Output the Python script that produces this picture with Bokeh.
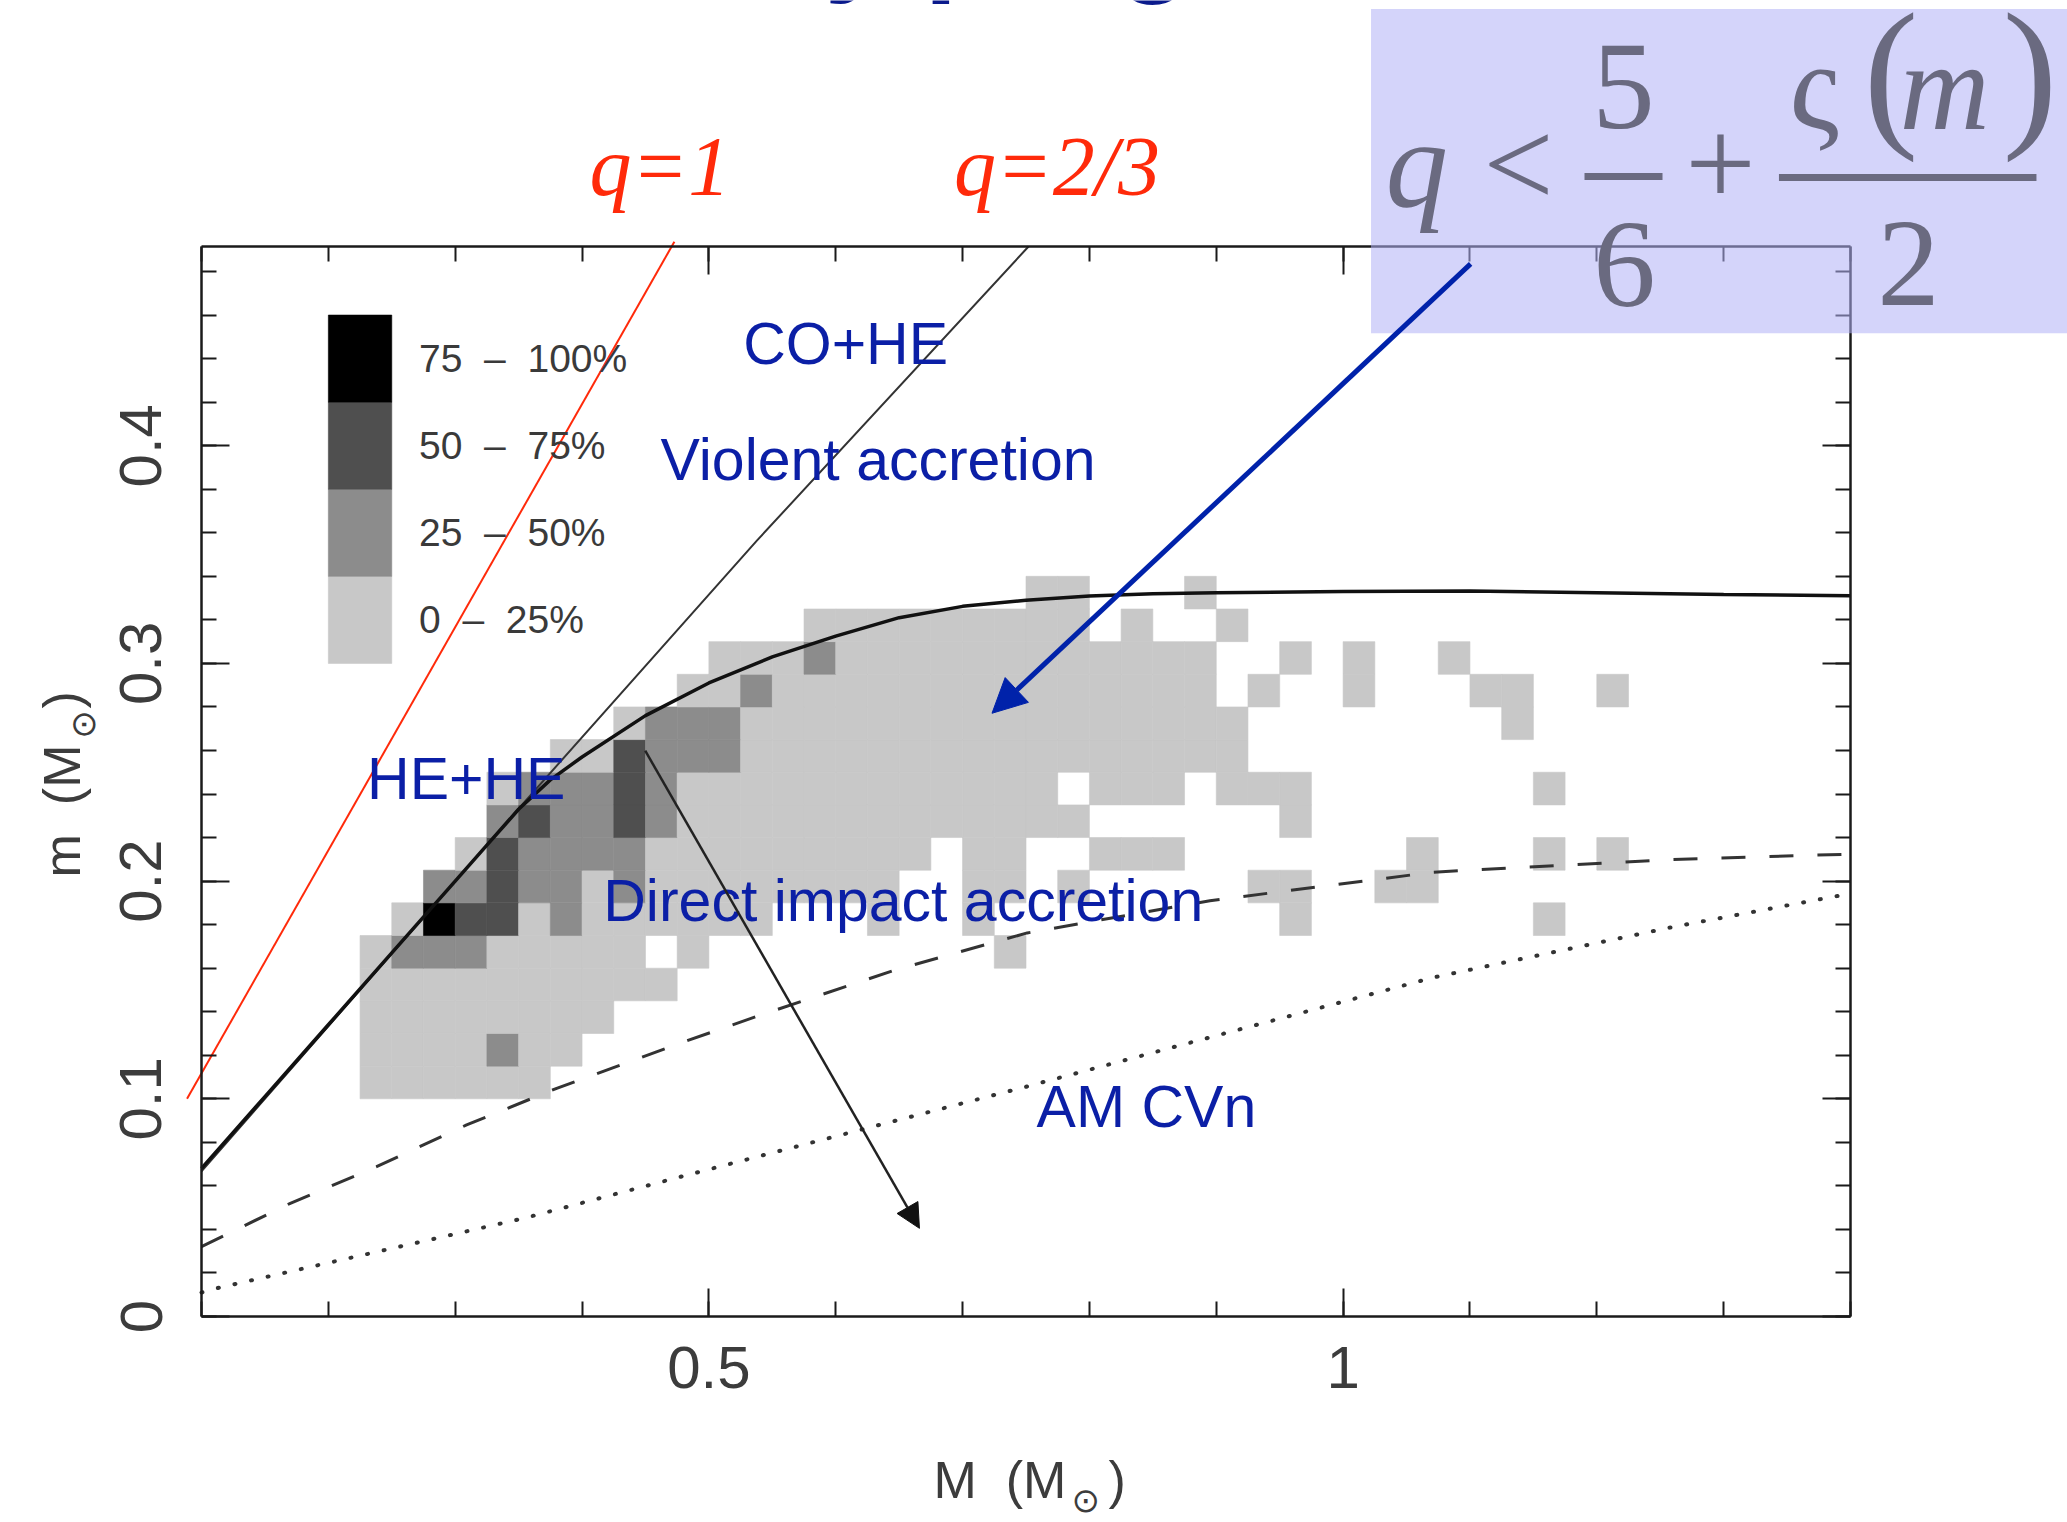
import math
from bokeh.plotting import figure
from bokeh.models import (FixedTicker, NumeralTickFormatter, LinearAxis, Label, Arrow,
                          NormalHead, BoxAnnotation, ColumnDataSource, Range1d)
from bokeh.embed import file_html
from bokeh.resources import INLINE

# ---------------------------------------------------------------- data
# Population grid: accretor mass M (columns) vs donor mass m (rows).
# Digits give the share class of each cell: 0 empty, 1 = 0-25 %, 2 = 25-50 %,
# 3 = 50-75 %, 4 = 75-100 %.  First string is the lowest row; the blanks only
# split each row into blocks of ten columns.
M_bin_start = 0.2
M_bin_width = 0.025
m_bin_start = 0.1
m_bin_height = 0.015
density_rows = [
    "0111111000 0000000000 0000000000 0000000000 00",
    "0111121100 0000000000 0000000000 0000000000 00",
    "0111111110 0000000000 0000000000 0000000000 00",
    "0111111111 1000000000 0000000000 0000000000 00",
    "0122211111 0100000000 0100000000 0000000000 00",
    "0014331211 1111000100 1000000000 1000000010 00",
    "0002232212 1111111100 1101000001 1001100000 00",
    "0000132222 1111111110 1100111000 0000100010 10",
    "0000023223 2111111111 1111000000 1000000000 00",
    "0000012223 2111111111 1110111011 1000000010 00",
    "0000000113 2221111111 1111111110 0000000000 00",
    "0000000001 2221111111 1111111110 0000000100 00",
    "0000000000 0112111111 1111111101 0010001100 10",
    "0000000000 0011121111 1111111100 1010010000 00",
    "0000000000 0000011111 1111010010 0000000000 00",
    "0000000000 0000000000 0011000100 0000000000 00",
]
NB = "\u00a0"
share_labels = [f"0{NB}{NB}\u2013{NB}{NB}25%", f"25{NB}{NB}\u2013{NB}{NB}50%",
                f"50{NB}{NB}\u2013{NB}{NB}75%", f"75{NB}{NB}\u2013{NB}{NB}100%"]
share_colors = ["#c8c8c8", "#8c8c8c", "#4f4f4f", "#000000"]

# Boundary curves (M, m)
solid_M = [0.10, 0.15, 0.20, 0.25, 0.30, 0.325, 0.35, 0.375, 0.40, 0.45, 0.50, 0.55,
           0.60, 0.65, 0.70, 0.75, 0.80, 0.85, 0.90, 1.00, 1.10, 1.20, 1.30, 1.40]
solid_m = [0.0680, 0.1010, 0.1340, 0.1670, 0.2000, 0.2165, 0.2330, 0.2465, 0.2570,
           0.2760, 0.2910, 0.3030, 0.3125, 0.3210, 0.3262, 0.3290, 0.3310, 0.3320,
           0.3325, 0.3330, 0.3332, 0.3325, 0.3316, 0.3311]
q23_M = [0.10, 0.35, 0.538, 0.752]
q23_m = [0.0667, 0.2333, 0.3565, 0.4915]
dashed_M = [0.10, 0.170, 0.238, 0.309, 0.380, 0.477, 0.541, 0.646, 0.751, 0.895,
            1.071, 1.258, 1.40]
dashed_m = [0.0321, 0.0520, 0.0688, 0.0880, 0.1048, 0.1255, 0.1385, 0.1590, 0.1762,
            0.1910, 0.2041, 0.2099, 0.2124]
dotted_M = [0.10, 0.112, 0.233, 0.354, 0.483, 0.751, 0.882, 1.071, 1.258, 1.40]
dotted_m = [0.011, 0.013, 0.029, 0.0451, 0.065, 0.1057, 0.1262, 0.1557, 0.1787, 0.1943]
q1_M = [0.0886, 0.4728]
q1_m = [0.1000, 0.4937]

# ---------------------------------------------------------------- page geometry
# The drawing area fills the whole page so that the slide annotations around the
# chart box can be drawn too; the chart box itself is made of four fixed axes.
W, H = 2067, 1522
M_lo, M_hi, box_left_px, box_right_px = 0.1, 1.4, 201, 1850
m_lo, m_hi, box_bottom_px, box_top_px = 0.0, 0.4915, 1316, 246
px_per_M = (box_right_px - box_left_px) / (M_hi - M_lo)
px_per_m = (box_bottom_px - box_top_px) / (m_hi - m_lo)
x_range = Range1d(M_lo - box_left_px / px_per_M, M_hi + (W - box_right_px) / px_per_M)
y_range = Range1d(m_lo - (H - box_bottom_px) / px_per_m, m_lo + box_bottom_px / px_per_m)


def lift(size_px, em):
    """Offset (in m units) that puts a text's baseline where it is wanted."""
    return em * size_px / px_per_m


def shift_left(size_px, em):
    """Same offset for text turned by 90 degrees (in M units)."""
    return em * size_px / px_per_M


SANS_EM, SERIF_EM = 0.40, 0.35

p = figure(width=W, height=H, x_range=x_range, y_range=y_range, title=None,
           output_backend="svg", toolbar_location=None,
           x_axis_location=None, y_axis_location=None, min_border=0,
           background_fill_color="white", border_fill_color="white",
           outline_line_color=None)
p.grid.visible = False

# population cells
cells = dict(left=[], right=[], bottom=[], top=[], color=[])
for j, row in enumerate(density_rows):
    row = row.replace(" ", "")
    assert len(row) == 42
    for c, ch in enumerate(row):
        level = int(ch)
        if level == 0:
            continue
        cells["left"].append(M_bin_start + c * M_bin_width)
        cells["right"].append(M_bin_start + (c + 1) * M_bin_width)
        cells["bottom"].append(m_bin_start + j * m_bin_height)
        cells["top"].append(m_bin_start + (j + 1) * m_bin_height)
        cells["color"].append(share_colors[level - 1])
p.quad(left="left", right="right", bottom="bottom", top="top", source=ColumnDataSource(cells),
       fill_color="color", line_color="color", line_width=0.6)

# key swatches, stacked in the upper left corner of the chart box
key_left, key_right, key_bottom, key_step = 0.2, 0.25, 0.30, 0.04
p.quad(left=[key_left] * 4, right=[key_right] * 4,
       bottom=[key_bottom + k * key_step for k in range(4)],
       top=[key_bottom + (k + 1) * key_step for k in range(4)],
       fill_color=share_colors, line_color=share_colors, line_width=0.6)
for k, txt in enumerate(share_labels):
    p.add_layout(Label(x=0.2715, y=key_bottom + (k + 0.5) * key_step, text=txt,
                       text_baseline="middle", text_font="Liberation Sans",
                       text_font_size="39px", text_color="#3a3a3a"))

# curves
p.line(dotted_M, dotted_m, line_color="#333333", line_width=4, line_dash="1 16",
       line_cap="round")
p.line(dashed_M, dashed_m, line_color="#333333", line_width=3, line_dash="24 24")
p.line(q23_M, q23_m, line_color="#333333", line_width=2)
p.line(solid_M, solid_m, line_color="#111111", line_width=3.5)

# ---------------------------------------------------------------- axes
ticks_M = FixedTicker(ticks=[0.5, 1.0], minor_ticks=[round(0.1 * k, 1) for k in range(1, 15)])
ticks_m = FixedTicker(ticks=[0.0, 0.1, 0.2, 0.3, 0.4],
                      minor_ticks=[round(0.02 * k, 2) for k in range(0, 25)])


def make_axis(ticker, location, bounds, show_labels):
    ax = LinearAxis(ticker=ticker, fixed_location=location, bounds=bounds)
    ax.axis_line_width = 2.5
    ax.axis_line_color = "#1a1a1a"
    ax.major_tick_in = 28
    ax.major_tick_out = 0
    ax.minor_tick_in = 15
    ax.minor_tick_out = 0
    ax.major_tick_line_width = 2
    ax.minor_tick_line_width = 2
    ax.major_tick_line_color = "#1a1a1a"
    ax.minor_tick_line_color = "#1a1a1a"
    ax.formatter = NumeralTickFormatter(format="0.[0]")
    ax.major_label_text_font = "Liberation Sans"
    ax.major_label_text_font_size = "60px"
    ax.major_label_text_color = "#3c3c3c" if show_labels else None
    return ax


bottom_axis = make_axis(ticks_M, m_lo, (M_lo, M_hi), True)
bottom_axis.major_label_standoff = 30
p.add_layout(bottom_axis, "below")
left_axis = make_axis(ticks_m, M_lo, (m_lo, m_hi), True)
left_axis.major_label_standoff = 40
left_axis.major_label_orientation = "vertical"
p.add_layout(left_axis, "left")
p.add_layout(make_axis(ticks_M, m_hi, (M_lo, M_hi), False), "above")
p.add_layout(make_axis(ticks_m, M_hi, (m_lo, m_hi), False), "right")

# axis titles with a subscript solar symbol
grey = "#3c3c3c"
ax_size = 52
p.add_layout(Label(x=0.6771, y=-0.0845 + lift(ax_size, SANS_EM), text=f"M{NB}{NB}(M",
                   text_font="Liberation Sans", text_baseline="alphabetic",
                   text_font_size=f"{ax_size}px", text_color=grey))
p.add_layout(Label(x=0.7859, y=-0.0845, text="\u2299", text_baseline="middle",
                   text_font="DejaVu Sans", text_font_size="34px", text_color=grey))
p.add_layout(Label(x=0.8150, y=-0.0845 + lift(ax_size, SANS_EM), text=")",
                   text_font="Liberation Sans", text_baseline="alphabetic",
                   text_font_size=f"{ax_size}px", text_color=grey))
p.add_layout(Label(x=0.0062 - shift_left(ax_size, SANS_EM), y=0.2017, text=f"m{NB}{NB}(M",
                   angle=math.pi / 2, text_baseline="alphabetic",
                   text_font="Liberation Sans", text_font_size=f"{ax_size}px",
                   text_color=grey))
p.add_layout(Label(x=0.0062, y=0.2719, text="\u2299", angle=math.pi / 2,
                   text_align="center", text_baseline="middle",
                   text_font="DejaVu Sans", text_font_size="34px", text_color=grey))
p.add_layout(Label(x=0.0062 - shift_left(ax_size, SANS_EM), y=0.2793, text=")",
                   angle=math.pi / 2, text_baseline="alphabetic",
                   text_font="Liberation Sans", text_font_size=f"{ax_size}px",
                   text_color=grey))

# ---------------------------------------------------------------- annotations
blue = "#0b1fa6"
region_size = 59
for txt, x, y in [("CO+HE", 0.5270, 0.4359), ("Violent accretion", 0.4618, 0.3826),
                  ("HE+HE", 0.2305, 0.2359), ("Direct impact accretion", 0.4167, 0.1801),
                  ("AM CVn", 0.7583, 0.0854)]:
    p.add_layout(Label(x=x, y=y + lift(region_size, SANS_EM), text=txt,
                       text_font="Liberation Sans", text_baseline="alphabetic",
                       text_font_size=f"{region_size}px", text_color=blue))

# q = 1 guide, drawn by hand past the chart box
red = "#ff2a0a"
p.line(q1_M, q1_m, line_color=red, line_width=2)
q_size = 84
for txt, x in [("q=1", 0.4059), ("q=2/3", 0.6933)]:
    p.add_layout(Label(x=x, y=0.5149 + lift(q_size, SERIF_EM), text=txt,
                       text_font="Liberation Serif", text_baseline="alphabetic",
                       text_font_style="italic", text_font_size=f"{q_size}px",
                       text_color=red))

# evolution arrow
p.add_layout(Arrow(end=NormalHead(size=24, fill_color="#111111", line_color="#111111"),
                   x_start=0.4498, y_start=0.2599, x_end=0.666, y_end=0.0405,
                   line_color="#222222", line_width=2.5))

# stability criterion box
p.add_layout(BoxAnnotation(left=1.022, right=1.62, bottom=0.4517, top=0.6006,
                           fill_color="#b0b0f6", fill_alpha=0.55, line_color=None))
p.add_layout(Arrow(end=NormalHead(size=34, fill_color="#0022aa", line_color="#0022aa"),
                   x_start=1.1005, y_start=0.4835, x_end=0.7232, y_end=0.2771,
                   line_color="#0022aa", line_width=5))
fgrey = "#6a6a80"
for txt, x, y, align, style, size in [
        ("q", 1.0334, 0.5094, "left", "italic", 125),
        ("<", 1.1382, 0.5094, "center", "normal", 125),
        ("5", 1.2210, 0.5448, "center", "normal", 125),
        ("6", 1.2218, 0.4630, "center", "normal", 125),
        ("+", 1.2975, 0.5094, "center", "normal", 125),
        ("\u03c2", 1.3519, 0.5448, "left", "normal", 125),
        ("(", 1.4102, 0.5455, "left", "normal", 165),
        ("m", 1.4386, 0.5448, "left", "italic", 125),
        (")", 1.5198, 0.5455, "left", "normal", 165),
        ("2", 1.4457, 0.4635, "center", "normal", 125)]:
    p.add_layout(Label(x=x, y=y + lift(size, SERIF_EM), text=txt, text_align=align,
                       text_baseline="alphabetic", text_font="Liberation Serif",
                       text_font_style=style, text_font_size=f"{size}px",
                       text_color=fgrey))
for x0, x1, y in [(1.1903, 1.2518, 0.5237), (1.3436, 1.5466, 0.5232)]:
    p.add_layout(Arrow(start=None, end=None, x_start=x0, y_start=y, x_end=x1, y_end=y,
                       line_color=fgrey, line_width=7))

# slide heading, mostly above the page edge
title_size = 120
p.add_layout(Label(x=0.3491, y=0.6114 + lift(title_size, SANS_EM), text="Binary progenitors",
                   text_baseline="alphabetic",
                   text_font="Liberation Sans", text_font_style="bold",
                   text_font_size=f"{title_size}px", text_color="#0a1a8c"))

open("out.html", "w").write(file_html(p, INLINE))
